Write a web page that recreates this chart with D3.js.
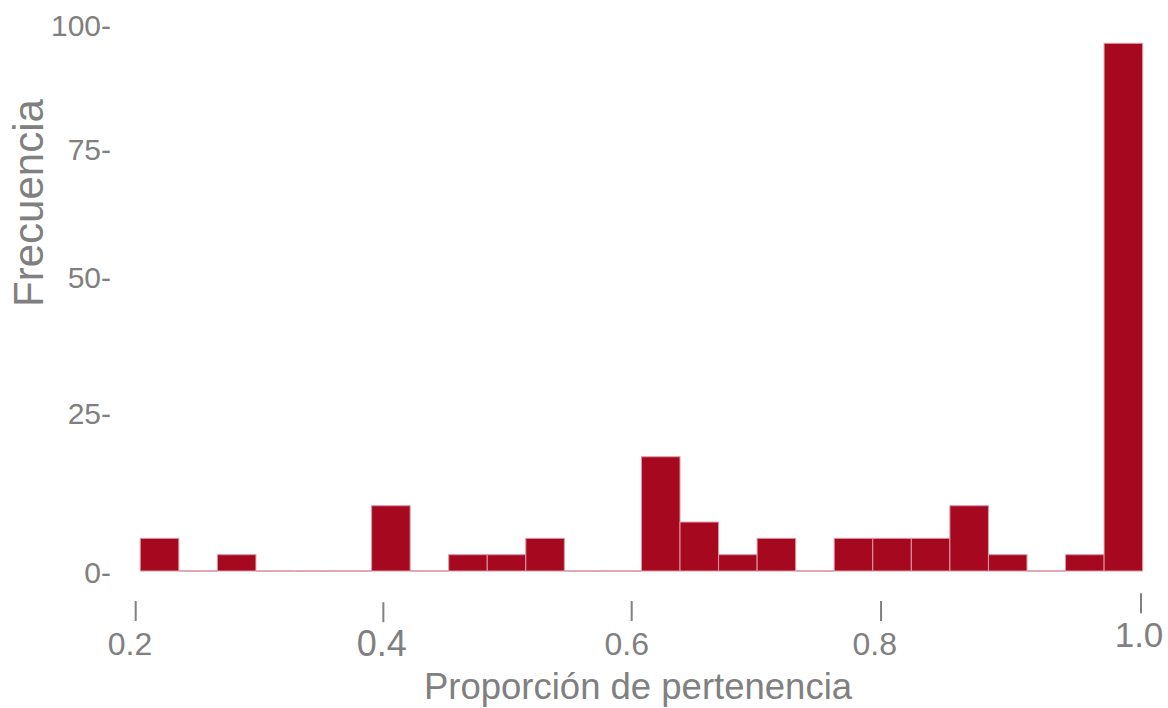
<!DOCTYPE html>
<html>
<head>
<meta charset="utf-8">
<script src="https://cdn.jsdelivr.net/npm/d3@7"></script>
<style>
  html, body { margin: 0; padding: 0; background: #fff; }
  svg text { font-family: "Liberation Sans", Arial, sans-serif; fill: #808080; }
</style>
</head>
<body>
<div id="chart"></div>
<script>
// données : histogramme, 26 classes
const counts = [6, 0, 3, 0, 0, 0, 12, 0, 3, 3, 6, 0, 0, 21, 9, 3, 6, 0, 6, 6, 6, 12, 3, 0, 3, 97];
const binStart = 0.2058;
const binWidth = 0.03075;
const xTicks = ["0.2", "0.4", "0.6", "0.8", "1.0"];
const yTicks = [0, 25, 50, 75, 100];

// style des étiquettes de l'axe x (taille, décalage, ligne de base)
const xTickStyle = {
  "0.2": { size: 32, dx: -3,    tdx: 2.7,  base: 654.5 },
  "0.4": { size: 36, dx: -2,    tdx: -0.4, base: 655.7 },
  "0.6": { size: 32, dx: -7.8,  tdx: -2.8, base: 654.5 },
  "0.8": { size: 32, dx: -10.5, tdx: -4.2, base: 654.5 },
  "1.0": { size: 35, dx: 3,     tdx: 5,    base: 646.7 }
};

const W = 1168, H = 708;

const svg = d3.select("#chart")
  .append("svg")
  .attr("width", W)
  .attr("height", H);

const x = d3.scaleLinear().domain([0.2, 1.0]).range([133, 1136]);
const y = d3.scaleLinear().domain([0, 100]).range([571, 27]);
// position des étiquettes y (légèrement décalées)
const yLab = d3.scalePow().exponent(0.89).domain([0, 100]).range([572.5, 25.5]);

const bins = counts.map((c, i) => ({
  x0: binStart + i * binWidth,
  x1: binStart + (i + 1) * binWidth,
  n: c
}));

// classes vides : trait sur la ligne de base
svg.append("g")
  .selectAll("line")
  .data(bins.filter(d => d.n === 0))
  .enter()
  .append("line")
  .attr("x1", d => x(d.x0))
  .attr("x2", d => x(d.x1))
  .attr("y1", y(0))
  .attr("y2", y(0))
  .attr("stroke", "#d68d97")
  .attr("stroke-width", 1.5);

// barres
svg.append("g")
  .selectAll("rect")
  .data(bins.filter(d => d.n > 0))
  .enter()
  .append("rect")
  .attr("x", d => x(d.x0))
  .attr("y", d => y(d.n))
  .attr("width", d => x(d.x1) - x(d.x0))
  .attr("height", d => y(0) - y(d.n))
  .attr("fill", "#a6081f")
  .attr("stroke", "#dc9aa3")
  .attr("stroke-width", 1);

// axe y
svg.append("g")
  .selectAll("text")
  .data(yTicks)
  .enter()
  .append("text")
  .attr("x", 111)
  .attr("y", d => yLab(d))
  .attr("dy", "0.36em")
  .attr("text-anchor", "end")
  .style("font-size", "30px")
  .text(d => d + "-");

// axe x
const xg = svg.append("g")
  .selectAll("g")
  .data(xTicks)
  .enter()
  .append("g");

xg.append("line")
  .attr("x1", d => x(+d) + xTickStyle[d].tdx)
  .attr("x2", d => x(+d) + xTickStyle[d].tdx)
  .attr("y1", d => xTickStyle[d].base - 53.5)
  .attr("y2", d => xTickStyle[d].base - 33.5)
  .attr("stroke", "#808080")
  .attr("stroke-width", 2);

xg.append("text")
  .attr("x", d => x(+d) + xTickStyle[d].dx)
  .attr("y", d => xTickStyle[d].base)
  .attr("text-anchor", "middle")
  .style("font-size", d => xTickStyle[d].size + "px")
  .text(d => d);

// titres
svg.append("text")
  .attr("x", 638)
  .attr("y", 699)
  .attr("text-anchor", "middle")
  .style("font-size", "36.5px")
  .text("Proporción de pertenencia");

svg.append("text")
  .attr("transform", "translate(43,203) rotate(-90)")
  .attr("text-anchor", "middle")
  .style("font-size", "42px")
  .text("Frecuencia");
</script>
</body>
</html>
